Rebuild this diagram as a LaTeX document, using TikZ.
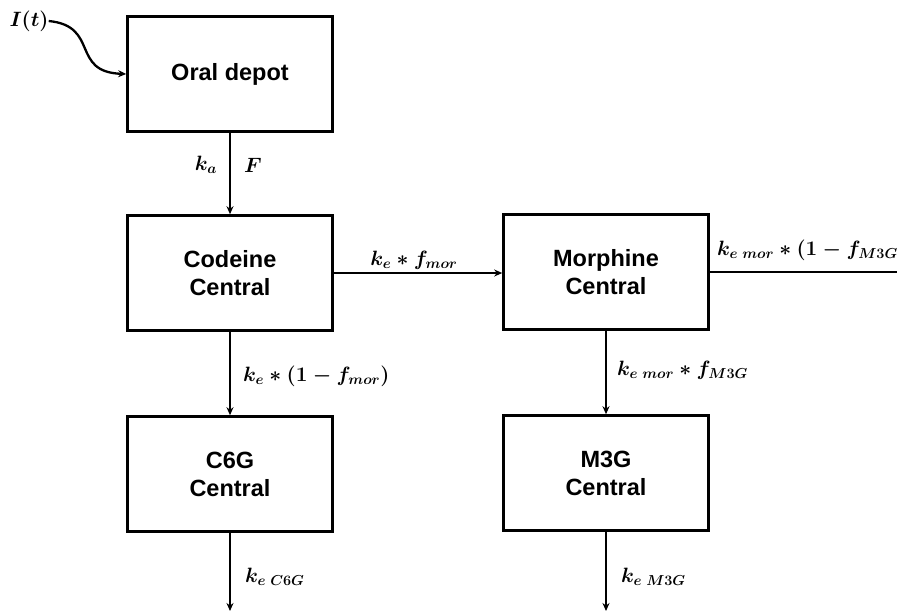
\documentclass[tikz,border=0pt]{standalone}
\usepackage{fontspec}
\setmainfont{Liberation Sans}
\usetikzlibrary{arrows.meta}
\begin{document}
\begin{tikzpicture}[x=1pt,y=-1pt,
  box/.style={draw,line width=2.6pt,minimum width=205pt,minimum height=115pt,inner sep=0pt,align=center,font=\fontsize{23.5}{28}\selectfont\bfseries},
  flow/.style={line width=2.3pt,-{Stealth[length=8pt,width=7pt]}},
  lbl/.style={font=\fontsize{20.5}{24}\selectfont\boldmath,inner sep=0pt}]
\useasboundingbox (0,0) rectangle (897,611);
\node[box] (oral) at (230,74) {Oral depot};
\node[box] (cod) at (230,273) {Codeine\\Central};
\node[box] (mor) at (606,272) {Morphine\\Central};
\node[box] (c6g) at (230,474) {C6G\\Central};
\node[box] (m3g) at (606,473) {M3G\\Central};
\node[lbl] (it) at (29,21) {$I(t)$};
\coordinate (c6gend) at (230,611);
\coordinate (m3gend) at (606,611);
\coordinate (morend) at (897,272);
\draw[flow] (it.east) .. controls (100,26) and (70,72) .. (oral.west);
\draw[flow] (oral) -- (cod);
\draw[flow] (cod.east) -- (cod.east -| mor.west);
\draw[line width=2.3pt] (mor.east) -- (morend);
\draw[flow] (cod) -- (c6g);
\draw[flow] (mor) -- (m3g);
\draw[flow] (c6g) -- (c6gend);
\draw[flow] (m3g) -- (m3gend);
\node[lbl] at (206,165) {$k_a$};
\node[lbl] at (253,165) {$F$};
\node[lbl] at (414,260) {$k_e * f_{mor}$};
\node[lbl,anchor=west] at (717,250) {$k_{e\;mor} * (1-f_{M3G})$};
\node[lbl,anchor=west] at (243,376) {$k_e * (1-f_{mor})$};
\node[lbl,anchor=west] at (617,370) {$k_{e\;mor} * f_{M3G}$};
\node[lbl,anchor=west] at (245,577) {$k_{e\;C6G}$};
\node[lbl,anchor=west] at (621,577) {$k_{e\;M3G}$};
\end{tikzpicture}
\end{document}
